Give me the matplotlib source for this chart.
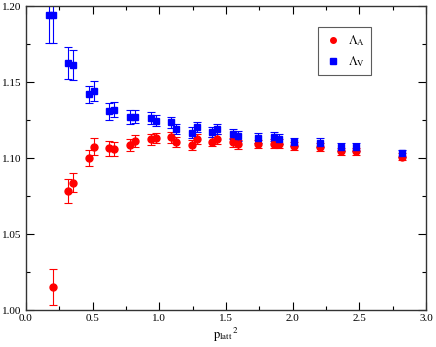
import numpy as np
import matplotlib
matplotlib.use("Agg")
import matplotlib.pyplot as plt
from matplotlib.lines import Line2D
from matplotlib.ticker import MultipleLocator, FormatStrFormatter

plt.rcParams["font.family"] = ["Liberation Serif", "DejaVu Serif"]
plt.rcParams["mathtext.fontset"] = "stix"

# Lambda_A (red circles)
xa = [0.20, 0.317, 0.355, 0.47, 0.51, 0.625, 0.662, 0.78, 0.818, 0.935, 0.973,
      1.088, 1.125, 1.243, 1.28, 1.395, 1.435, 1.55, 1.588, 1.743, 1.86, 1.898,
      2.013, 2.205, 2.36, 2.475, 2.823]
ya = [1.0149, 1.0783, 1.0838, 1.1002, 1.1074, 1.1064, 1.1060, 1.1083, 1.1114,
      1.1123, 1.1132, 1.1136, 1.1105, 1.1088, 1.1123, 1.1108, 1.1125, 1.1103,
      1.1090, 1.1092, 1.1094, 1.1094, 1.1080, 1.1070, 1.1044, 1.1044, 1.1009]
ea = [0.0118, 0.0077, 0.0063, 0.0054, 0.0055, 0.0050, 0.0044, 0.0040, 0.0040,
      0.0037, 0.0035, 0.0035, 0.0033, 0.0033, 0.0032, 0.0030, 0.0030, 0.0030,
      0.0029, 0.0028, 0.0028, 0.0028, 0.0027, 0.0026, 0.0025, 0.0025, 0.0024]

# Lambda_V (blue squares)
xv = [0.17, 0.20, 0.317, 0.355, 0.47, 0.51, 0.625, 0.662, 0.78, 0.818, 0.935,
      0.973, 1.088, 1.125, 1.243, 1.28, 1.395, 1.435, 1.55, 1.588, 1.743, 1.86,
      1.898, 2.013, 2.205, 2.36, 2.475, 2.823]
yv = [1.1940, 1.1940, 1.1623, 1.1612, 1.1419, 1.1441, 1.1309, 1.1318, 1.1272,
      1.1272, 1.1261, 1.1246, 1.1235, 1.1191, 1.1167, 1.1206, 1.1171, 1.1191,
      1.1158, 1.1145, 1.1132, 1.1141, 1.1125, 1.1105, 1.1101, 1.1070, 1.1070,
      1.1031]
ev = [0.0182, 0.0185, 0.0106, 0.0097, 0.0056, 0.0069, 0.0056, 0.0050, 0.0046,
      0.0044, 0.0040, 0.0038, 0.0037, 0.0035, 0.0034, 0.0034, 0.0033, 0.0032,
      0.0032, 0.0031, 0.0030, 0.0030, 0.0030, 0.0029, 0.0028, 0.0027, 0.0027,
      0.0025]

fig = plt.figure(figsize=(4.36, 3.47), dpi=100)
ax = fig.add_axes([0.0596, 0.1066, 0.9174, 0.876])

ax.errorbar(xa, ya, yerr=ea, fmt="o", color="red", ms=5, elinewidth=0.8,
            capsize=3, capthick=0.8)
ax.errorbar(xv, yv, yerr=ev, fmt="s", color="blue", ms=5, elinewidth=0.8,
            capsize=3, capthick=0.8)

ax.set_xlim(0, 3.0)
ax.set_ylim(1.0, 1.2)
ax.xaxis.set_major_locator(MultipleLocator(0.5))
ax.xaxis.set_minor_locator(MultipleLocator(0.25))
ax.yaxis.set_major_locator(MultipleLocator(0.05))
ax.yaxis.set_minor_locator(MultipleLocator(0.025))
ax.xaxis.set_major_formatter(FormatStrFormatter("%.1f"))
ax.yaxis.set_major_formatter(FormatStrFormatter("%.2f"))
ax.tick_params(which="both", direction="in", top=True, right=True,
               labelsize=8, width=0.8, pad=3)
ax.tick_params(which="major", length=6)
ax.tick_params(which="minor", length=3)
for s in ax.spines.values():
    s.set_linewidth(1.0)
    s.set_color("#333333")

ax.set_xlabel(r"$\mathrm{p_{latt}{}^{\,2}}$", fontsize=9, labelpad=2)

# legend shows plain markers (no error bars)
handles = [
    Line2D([], [], ls="none", marker="o", color="red", ms=4),
    Line2D([], [], ls="none", marker="s", color="blue", ms=4),
]
labels = [r"$\mathrm{\Lambda_A}$", r"$\mathrm{\Lambda_V}$"]
leg = ax.legend(handles, labels, loc="upper left",
                bbox_to_anchor=(0.73, 0.931), borderaxespad=0, fontsize=9,
                frameon=True, fancybox=False, edgecolor="#333333",
                handletextpad=0.5, borderpad=0.5, labelspacing=0.5,
                handlelength=1.4)
leg.get_frame().set_linewidth(0.8)

fig.savefig("out.png", dpi=100)
